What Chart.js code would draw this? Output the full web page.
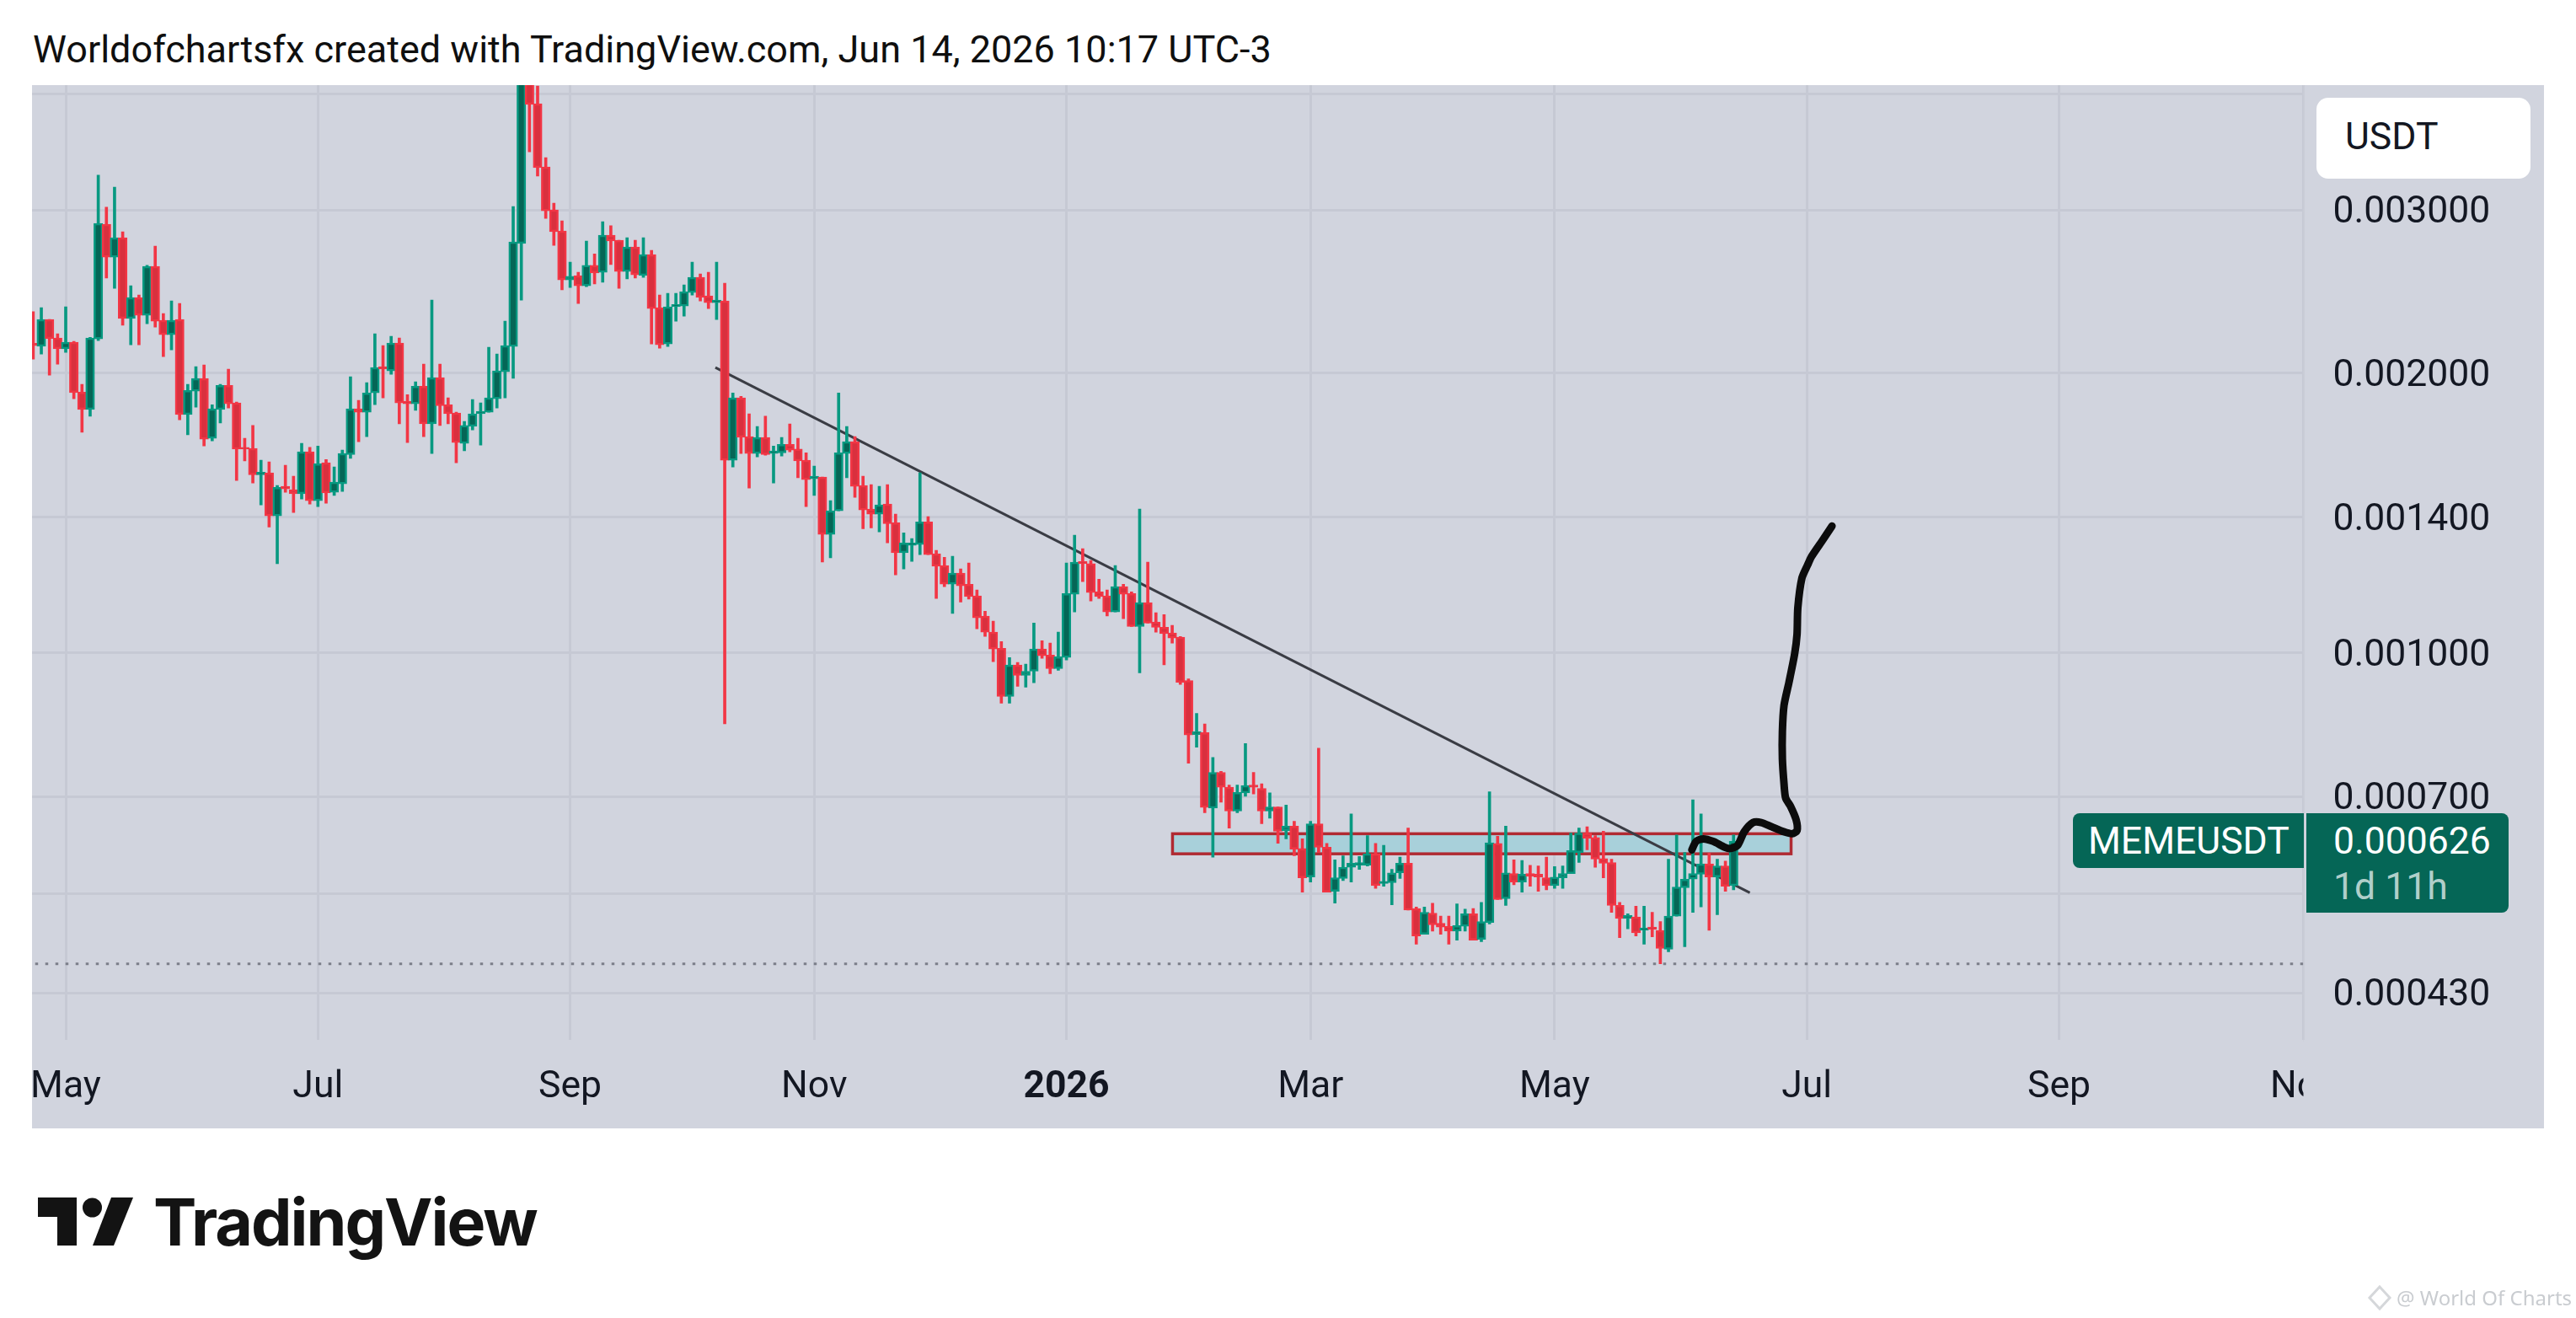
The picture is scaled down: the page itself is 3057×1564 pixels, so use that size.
<!DOCTYPE html>
<html>
<head>
<meta charset="utf-8">
<title>MEMEUSDT</title>
<script src="https://cdn.jsdelivr.net/npm/chart.js@4"></script>
<style>
  html, body { margin: 0; padding: 0; background: #fff; width: 3057px; height: 1564px; overflow: hidden; }
  body { font-family: Roboto, sans-serif; color: #131722; }
  canvas#chart { position: absolute; left: 38px; top: 101px; }
  .txt { position: absolute; white-space: nowrap; }
  #title { left: 39px; top: 33px; font-size: 45px; line-height: 52px; color: #0f0f0f; }
  #unit { left: 2749px; top: 116px; width: 254px; height: 96px; background: #fff; border-radius: 14px; }
  #unitText { left: 2783px; top: 136px; font-size: 44.5px; line-height: 52px; }
  #nameTag { left: 2460px; top: 965px; width: 274px; height: 65px; background: #056656; border-radius: 8px 0 0 8px; }
  #nameText { left: 2478px; top: 972px; font-size: 44.5px; line-height: 52px; color: #fff; }
  #priceTag { left: 2737px; top: 965px; width: 240px; height: 118px; background: #056656; border-radius: 0 8px 8px 0; }
  #priceText { left: 2769px; top: 972px; font-size: 44.5px; line-height: 52px; color: #fff; }
  #timeText { left: 2769px; top: 1026px; font-size: 44.5px; line-height: 52px; color: rgba(255,255,255,.7); }
  #logoText { left: 182px; top: 1404px; font-family: Inter, sans-serif; font-weight: 700; font-size: 77px; line-height: 92px; letter-spacing: -2px; color: #131313; }
  #mark { left: 2844px; top: 1525px; font-size: 24px; line-height: 30px; color: #c9ccd0; font-family: "Noto Sans", sans-serif; }
  svg { position: absolute; left: 0; top: 0; }
</style>
</head>
<body>
<canvas id="chart" width="2981" height="1238"></canvas>
<div class="txt" id="title">Worldofchartsfx created with TradingView.com, Jun 14, 2026 10:17 UTC-3</div>
<div class="txt" id="unit"></div>
<div class="txt" id="unitText">USDT</div>
<div class="txt" id="nameTag"></div>
<div class="txt" id="nameText">MEMEUSDT</div>
<div class="txt" id="priceTag"></div>
<div class="txt" id="priceText">0.000626</div>
<div class="txt" id="timeText">1d 11h</div>
<svg width="3057" height="1564">
  <polygon points="45,1421 91,1421 91,1478 68,1478 68,1444 45,1444" fill="#131313"/>
  <ellipse cx="109.5" cy="1433" rx="11.5" ry="11.5" fill="#131313"/>
  <polygon points="132,1421 158,1421 135,1478 110,1478" fill="#131313"/>
  <polygon points="2824,1527 2836,1540 2824,1553 2812,1540" fill="none" stroke="#d5d7da" stroke-width="3"/>
</svg>
<div class="txt" id="logoText">TradingView</div>
<div class="txt" id="mark">@ World Of Charts</div>

<script>
// prices are in millionths of a USDT, 2 day candles
const firstBar = -4; // bars are counted from the May 2025 tick

const opens = [
  2155,2139,2286,2183,2125,2160,1909,1828,2178,2896,
  2668,2800,2291,2414,2310,2608,2281,2201,2286,1805,
  1913,1975,1702,1828,1941,1858,1664,1660,1555,1562,
  1404,1511,1498,1483,1646,1458,1602,1489,1520,1635,
  1831,1816,1905,2033,2012,2156,1866,1854,1937,1764,
  1979,1850,1812,1681,
  1753,1809,1816,1878,2008,2138,2760,4200,3905,3338,
  3000,2848,2522,2549,2485,2614,2570,2818,2783,2575,
  2737,2549,2685,2354,2151,2359,2363,2444,2538,2424,
  2383,2393,1612,1882,1709,1639,1706,1639,1642,1677,
  1657,1612,1539,1546,1341,1422,1639,1688,1514,1428,
  1410,1446,1380,1281,1305,1308,1383,1278,1241,1185,
  1218,1185,1151,1095,1052,1011,897,970,945,955,
  1009,994,961,988,1156,1254,1247,1163,1151,1106,
  1178,1158,1067,1132,1079,1065,1050,1039,933,816,
  820,680,743,716,675,706,720,714,675,682,
  643,650,615,573,654,617,553,571,587,590,
  590,607,564,565,579,593,530,497,524,511,
  507,501,507,523,491,512,623,543,578,566,
  578,577,572,561,572,578,609,639,632,600,
  594,534,517,519,502,506,502,479,520,558,
  570,577,592,573,589,561
];
const highs = [
  2330,2354,2286,2206,2359,2165,1946,2187,3270,3020,
  3175,2842,2485,2429,2614,2742,2320,2393,2378,1946,
  2033,2042,1850,1946,2021,1862,1702,1757,1612,1605,
  1514,1592,1549,1681,1664,1670,1615,1585,1653,1983,
  1870,1954,2206,2142,2192,2183,1897,1958,2046,2398,
  2046,1882,1816,1775,
  1874,1858,2134,2098,2276,3026,4400,4400,4080,3416,
  3051,2920,2635,2570,2777,2690,2914,2884,2783,2800,
  2783,2800,2713,2429,2439,2439,2491,2635,2559,2570,
  2635,2501,1905,1889,1809,1753,1798,1670,1706,1764,
  1702,1642,1589,1546,1458,1905,1753,1709,1549,1517,
  1511,1517,1410,1346,1327,1562,1401,1289,1267,1270,
  1231,1249,1168,1108,1081,1028,988,976,972,1076,
  1030,1024,1052,1249,1338,1294,1257,1200,1168,1241,
  1185,1163,1428,1252,1104,1099,1070,1041,937,860,
  838,771,745,720,720,798,743,722,706,682,
  685,658,630,658,789,623,598,604,670,603,
  635,623,620,584,602,647,532,532,537,520,
  520,536,529,530,538,708,634,650,598,597,
  590,589,602,588,589,639,647,649,635,642,
  599,538,523,533,533,525,513,599,636,609,
  694,670,608,599,596,636
];
const lows = [
  2072,2098,1991,2046,2107,1878,1728,1798,2169,2533,
  2470,2253,2147,2147,2262,2243,2085,2120,1782,1717,
  1839,1670,1691,1768,1835,1533,1609,1523,1443,1366,
  1247,1489,1416,1464,1446,1437,1449,1477,1492,1619,
  1688,1709,1850,1882,1995,1764,1684,1824,1709,1639,
  1757,1764,1602,1650,
  1738,1674,1816,1835,1882,1975,2398,3466,3263,2938,
  2748,2460,2475,2378,2480,2496,2507,2619,2470,2528,
  2533,2538,2151,2129,2138,2276,2305,2429,2393,2349,
  2286,838,1585,1639,1504,1625,1632,1523,1629,1646,
  1543,1437,1477,1252,1265,1422,1543,1470,1360,1363,
  1349,1313,1213,1231,1254,1275,1275,1144,1178,1102,
  1134,1142,1061,1041,978,882,882,920,918,928,
  986,949,957,982,1106,1193,1137,1144,1095,1106,
  1088,1067,951,1076,1052,970,1024,924,760,791,
  672,602,690,647,672,700,704,654,663,623,
  630,604,552,566,609,552,537,568,566,584,
  589,557,560,535,571,528,485,497,501,497,
  485,490,501,490,488,510,542,534,562,552,
  560,553,555,557,557,578,594,613,587,572,
  525,493,504,495,485,494,462,476,520,482,
  525,532,502,522,553,555
];
const closes = [
  2142,2286,2179,2125,2160,1906,1828,2183,2902,2668,
  2800,2291,2414,2310,2608,2276,2201,2281,1805,1917,
  1975,1698,1831,1941,1854,1657,1657,1555,1565,1404,
  1507,1501,1483,1646,1458,1598,1486,1527,1639,1831,
  1816,1905,2029,2021,2156,1858,1854,1937,1764,1979,
  1846,1809,1684,1757,
  1809,1820,1882,2012,2142,2771,4200,3897,3331,2994,
  2842,2522,2544,2485,2614,2565,2818,2777,2575,2737,
  2554,2685,2349,2147,2359,2373,2449,2538,2414,2383,
  2398,1612,1882,1706,1639,1706,1635,1650,1677,1653,
  1609,1536,1549,1341,1422,1642,1688,1511,1425,1410,
  1443,1377,1281,1313,1313,1383,1275,1239,1185,1218,
  1180,1149,1090,1052,1009,897,970,945,955,1009,
  992,961,990,1158,1252,1247,1161,1149,1106,1178,
  1156,1067,1132,1076,1065,1048,1037,929,815,822,
  681,743,716,675,707,719,716,675,682,642,
  650,614,572,654,617,552,572,587,593,594,
  607,561,567,579,593,528,495,525,509,506,
  501,508,523,490,513,624,542,579,566,577,
  574,573,561,573,578,612,639,631,599,593,
  534,517,521,499,505,503,480,520,559,570,
  578,592,573,589,560,626
];

const priceTicks = [4000, 3000, 2000, 1400, 1000, 700, 550, 430];
const priceLabels = ['', '0.003000', '0.002000', '0.001400', '0.001000', '0.000700', '', '0.000430'];
const monthTicks = [0, 31, 62, 92, 123, 153, 183, 214, 245, 275];
const monthLabels = ['May', 'Jul', 'Sep', 'Nov', '2026', 'Mar', 'May', 'Jul', 'Sep', 'Nov'];

const trendBars = [79.85, 207];
const trendPrices = [2029, 551];
const lowPrice = 462;
const zoneBars = [136.04, 212.07];
const zonePrices = [638, 607];
const pathBars = [199.87, 200.4, 201.3, 202.5, 203.9, 204.6, 205.5, 206.3, 207.4, 208.4, 209.7, 211.2, 212.2, 212.8, 212.7, 212, 211.4, 211.2, 211, 211, 211.2, 211.8, 212.5, 212.8, 212.9, 213.4, 214.1, 214.6, 216, 217.1];
const pathPrices = [613, 626, 630, 626, 617, 615, 620, 641, 656, 656, 649, 641, 638, 643, 660, 683, 697, 722, 768, 822, 877, 928, 996, 1046, 1118, 1203, 1243, 1270, 1324, 1369];

const bgColor = '#d1d4de';
const gridColor = '#c6c9d4';
const isUp = opens.map((o, i) => closes[i] >= o);
const edgeColors = isUp.map(u => u ? '#089981' : '#f23645');
const fillColors = isUp.map(u => u ? '#056656' : '#d9303e');

const wicks = opens.map((o, i) => ({ x: firstBar + i, y: [lows[i], highs[i]] }));
const bodies = opens.map((o, i) => ({ x: firstBar + i, y: [o, closes[i]] }));

// the supply box sits under the candles, so it goes in before the datasets
const zonePlugin = {
  id: 'zone',
  beforeDatasetsDraw(chart) {
    const { ctx, scales } = chart;
    const x0 = scales.x.getPixelForValue(zoneBars[0]);
    const x1 = scales.x.getPixelForValue(zoneBars[1]);
    const y0 = scales.y.getPixelForValue(zonePrices[0]);
    const y1 = scales.y.getPixelForValue(zonePrices[1]);
    ctx.save();
    ctx.fillStyle = '#a8d0da';
    ctx.strokeStyle = '#b02a32';
    ctx.lineWidth = 3.5;
    ctx.fillRect(x0, y0, x1 - x0, y1 - y0);
    ctx.strokeRect(x0, y0, x1 - x0, y1 - y0);
    ctx.restore();
  }
};

// the Nov label is cut off by the price axis
const cutLabelPlugin = {
  id: 'cutLabel',
  afterDraw(chart) {
    const { ctx, chartArea, width, height } = chart;
    ctx.save();
    ctx.fillStyle = bgColor;
    ctx.fillRect(chartArea.right, chartArea.bottom, width - chartArea.right, height - chartArea.bottom);
    ctx.restore();
  }
};

const config = {
  data: {
    datasets: [{
      type: 'line',
      label: 'path',
      data: pathBars.map((b, i) => ({ x: b, y: pathPrices[i] })),
      borderColor: '#0c0c0c',
      borderWidth: 9,
      tension: 0.25,
      pointRadius: 0,
      borderCapStyle: 'round',
      borderJoinStyle: 'round',
      order: 0
    }, {
      type: 'bar',
      label: 'body',
      data: bodies,
      backgroundColor: fillColors,
      borderColor: edgeColors,
      borderWidth: 2.5,
      borderSkipped: false,
      barThickness: 10.5,
      grouped: false,
      order: 1
    }, {
      type: 'bar',
      label: 'wick',
      data: wicks,
      backgroundColor: edgeColors,
      barThickness: 3,
      grouped: false,
      order: 2
    }, {
      type: 'line',
      label: 'trend',
      data: trendBars.map((b, i) => ({ x: b, y: trendPrices[i] })),
      borderColor: '#3a3c44',
      borderWidth: 3,
      pointRadius: 0,
      order: 3
    }, {
      type: 'line',
      label: 'low',
      data: [{ x: firstBar - 1, y: lowPrice }, { x: 276, y: lowPrice }],
      borderColor: '#7c7f8a',
      borderWidth: 3,
      borderDash: [3.5, 8.5],
      pointRadius: 0,
      order: 4
    }]
  },
  options: {
    responsive: false,
    animation: false,
    events: [],
    layout: { padding: 0 },
    plugins: { legend: { display: false }, tooltip: { enabled: false } },
    scales: {
      x: {
        type: 'linear',
        offset: false,
        min: -4.143,
        max: 275.04,
        grid: { offset: false, color: gridColor, lineWidth: 3, drawTicks: false },
        border: { display: false },
        afterBuildTicks: scale => { scale.ticks = monthTicks.map(v => ({ value: v })); },
        afterFit: scale => { scale.height = 105; scale.paddingLeft = 0; scale.paddingRight = 0; },
        ticks: {
          autoSkip: false,
          maxRotation: 0,
          padding: 30,
          color: '#131722',
          font: ctx => ({ family: 'Roboto', size: 44.5, weight: ctx.tick && ctx.tick.value === 123 ? 'bold' : 'normal' }),
          callback: value => monthLabels[monthTicks.indexOf(value)]
        }
      },
      y: {
        type: 'logarithmic',
        position: 'right',
        min: 382.5,
        max: 4089,
        grid: { color: gridColor, lineWidth: 3, drawTicks: false },
        border: { display: true, color: '#c9ccd6', width: 2 },
        afterBuildTicks: scale => { scale.ticks = priceTicks.map(v => ({ value: v })); },
        afterFit: scale => { scale.width = 285.5; scale.paddingTop = 0; scale.paddingBottom = 0; },
        ticks: {
          autoSkip: false,
          padding: 35,
          labelOffset: 4,
          color: '#131722',
          font: { family: 'Roboto', size: 44.5 },
          callback: value => priceLabels[priceTicks.indexOf(value)]
        }
      }
    }
  },
  plugins: [zonePlugin, cutLabelPlugin]
};

document.getElementById('chart').style.background = bgColor;
new Chart(document.getElementById('chart'), config);
</script>
</body>
</html>
